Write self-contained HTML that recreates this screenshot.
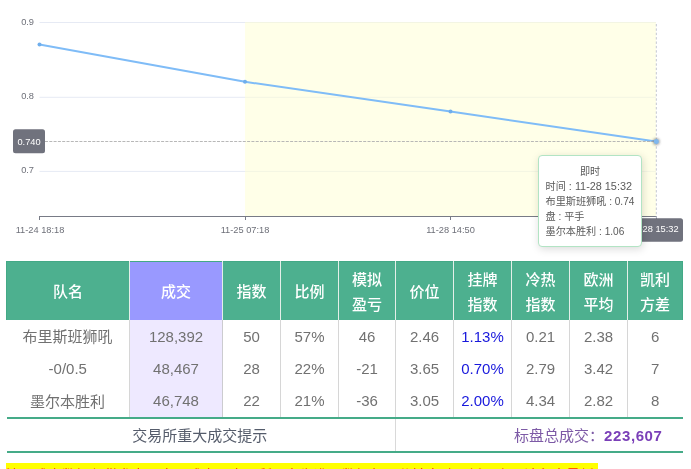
<!DOCTYPE html>
<html lang="zh-CN">
<head>
<meta charset="utf-8">
<title>成交数据</title>
<style>
html,body{margin:0;padding:0;background:#fff;}
body{width:691px;height:469px;overflow:hidden;position:relative;font-family:"Liberation Sans","Noto Sans CJK SC",sans-serif;color:#666;}
#chart{position:absolute;left:0;top:0;width:691px;height:250px;}
#chart text{font-family:"Liberation Sans","Noto Sans CJK SC",sans-serif;font-size:9.25px;fill:#6e7079;}
#tip{position:absolute;left:538px;top:155px;width:102px;height:89.5px;box-sizing:content-box;border:1px solid #b2e4c4;border-radius:4px;background:#fff;box-shadow:1px 2px 8px rgba(0,0,0,.15);font-size:10.15px;line-height:15px;color:#5a5a5a;white-space:nowrap;}
#tip div{position:absolute;left:6.6px;}
#tip i{font-style:normal;font-size:10.1px;}
#tip i.w{font-size:10.85px;}
#tip .c{left:0;width:102px;text-align:center;}
table{position:absolute;left:6px;top:261px;width:676px;border-collapse:collapse;table-layout:fixed;font-size:15px;}
th,td{padding:0;text-align:center;vertical-align:middle;overflow:hidden;white-space:nowrap;}
thead th{height:57px;padding-top:1px;background:#4db08f;color:#fff;font-weight:500;font-size:15px;line-height:25px;border:1px solid #e4efe9;border-top:1px solid #43a986;border-bottom:none;}
thead th:first-child{border-left:1px solid #43a986;}
thead th:last-child{border-right:1px solid #43a986;}
thead th.p{background:#9999ff;}
tbody td{height:32.33px;border-left:1px solid #d6d6d6;border-right:1px solid #d6d6d6;color:#717171;}
tbody td:first-child{border-left:none;}
tbody td:last-child{border-right:none;}
tbody td.p{background:#eee9ff;border-left:1px solid #cccccf;border-right:1px solid #cccccf;}
tbody td.b{color:#1818dc;}
.cj{position:relative;top:-.8px;left:-.3px;}
tfoot td{height:32px;border-top:2px solid #45ab88;border-bottom:2px solid #45ab88;color:#555c6b;}
tfoot td.l{padding-right:2px;}
tfoot td.r{text-align:right;padding-right:20px;border-left:1px solid #d9d9d9;color:#7d5aa6;}
tfoot td.r b{color:#7a3fb8;letter-spacing:.6px;}
#note{position:absolute;left:6px;top:463px;width:592px;height:20px;background:#ffff00;color:#ff2a00;font-size:14px;line-height:24px;white-space:nowrap;overflow:hidden;}
</style>
</head>
<body>
<svg id="chart" width="691" height="250" viewBox="0 0 691 250">
  <g stroke="#e6eaf4" stroke-width="1">
    <line x1="39.5" y1="22.5" x2="656" y2="22.5"/>
    <line x1="39.5" y1="97.3" x2="656" y2="97.3"/>
    <line x1="39.5" y1="171.4" x2="656" y2="171.4"/>
  </g>
  <rect x="245" y="22" width="411" height="194" fill="#ffffd2" fill-opacity="0.5"/>
  <g stroke="#787b86" stroke-width="1" fill="none">
    <line x1="39" y1="216.5" x2="656.5" y2="216.5"/>
    <line x1="39.5" y1="216" x2="39.5" y2="220"/>
    <line x1="245.5" y1="216" x2="245.5" y2="220"/>
    <line x1="450.5" y1="216" x2="450.5" y2="220"/>
    <line x1="656.5" y1="216" x2="656.5" y2="220"/>
  </g>
  <text x="34" y="24.8" text-anchor="end">0.9</text>
  <text x="34" y="98.6" text-anchor="end">0.8</text>
  <text x="34" y="173" text-anchor="end">0.7</text>
  <text x="40" y="233" text-anchor="middle">11-24 18:18</text>
  <text x="245" y="233" text-anchor="middle">11-25 07:18</text>
  <text x="450.5" y="233" text-anchor="middle">11-28 14:50</text>
  <polyline points="39.5,44.6 245,81.8 450.5,111.6 656,141.4" fill="none" stroke="#7fbcf7" stroke-width="2" stroke-linejoin="round"/>
  <g fill="#6faeec">
    <circle cx="39.5" cy="44.6" r="2"/>
    <circle cx="245" cy="81.8" r="2"/>
    <circle cx="450.5" cy="111.6" r="2"/>
  </g>
  <line x1="45" y1="141.5" x2="656" y2="141.5" stroke="#b0b0b0" stroke-width="0.9" stroke-dasharray="3 1.3"/>
  <line x1="656.3" y1="24" x2="656.3" y2="218" stroke="#c2c6d0" stroke-width="1" stroke-dasharray="2.4 1.97"/>
  <defs><filter id="gl" x="-100%" y="-100%" width="300%" height="300%"><feGaussianBlur stdDeviation="1.3"/></filter></defs>
  <circle cx="656.3" cy="141.6" r="3.6" fill="#555" fill-opacity=".45" filter="url(#gl)"/>
  <circle cx="656.3" cy="141.4" r="2.5" fill="#80b8ee"/>
  <rect x="13" y="129.3" width="32" height="24" rx="2.5" fill="#70727d"/>
  <text x="29" y="144.7" text-anchor="middle" style="fill:#fff">0.740</text>
  <rect x="625" y="218.2" width="58" height="23.6" rx="2.5" fill="#70727d"/>
  <text x="654.2" y="232.4" text-anchor="middle" style="fill:#fff">11-28 15:32</text>
</svg>
<div id="tip">
  <div class="c" style="top:7.5px">即时</div>
  <div style="top:22.5px">时间<i class="w"> : 11-28 15:32</i></div>
  <div style="top:37.6px">布里斯班狮吼<i> : 0.74</i></div>
  <div style="top:52.8px">盘<i> : </i>平手</div>
  <div style="top:67.5px">墨尔本胜利<i> : 1.06</i></div>
</div>
<table>
  <colgroup>
    <col style="width:123px"><col style="width:93px"><col style="width:58px"><col style="width:58px"><col style="width:57px"><col style="width:58px"><col style="width:58px"><col style="width:58px"><col style="width:58px"><col style="width:55px">
  </colgroup>
  <thead>
    <tr><th>队名</th><th class="p">成交</th><th>指数</th><th>比例</th><th>模拟<br>盈亏</th><th>价位</th><th>挂牌<br>指数</th><th>冷热<br>指数</th><th>欧洲<br>平均</th><th>凯利<br>方差</th></tr>
  </thead>
  <tbody>
    <tr><td><span class="cj">布里斯班狮吼</span></td><td class="p">128,392</td><td>50</td><td>57%</td><td>46</td><td>2.46</td><td class="b">1.13%</td><td>0.21</td><td>2.38</td><td>6</td></tr>
    <tr><td>-0/0.5</td><td class="p">48,467</td><td>28</td><td>22%</td><td>-21</td><td>3.65</td><td class="b">0.70%</td><td>2.79</td><td>3.42</td><td>7</td></tr>
    <tr><td><span class="cj">墨尔本胜利</span></td><td class="p">46,748</td><td>22</td><td>21%</td><td>-36</td><td>3.05</td><td class="b">2.00%</td><td>4.34</td><td>2.82</td><td>8</td></tr>
  </tbody>
  <tfoot>
    <tr><td colspan="5" class="l">交易所重大成交提示</td><td colspan="5" class="r">标盘总成交：<b>223,607</b></td></tr>
  </tfoot>
</table>
<div id="note">注：成交数据仅供参考，实际成交以交易所公布为准，数据每三分钟自动更新一次，请留意最新变化</div>
</body>
</html>
